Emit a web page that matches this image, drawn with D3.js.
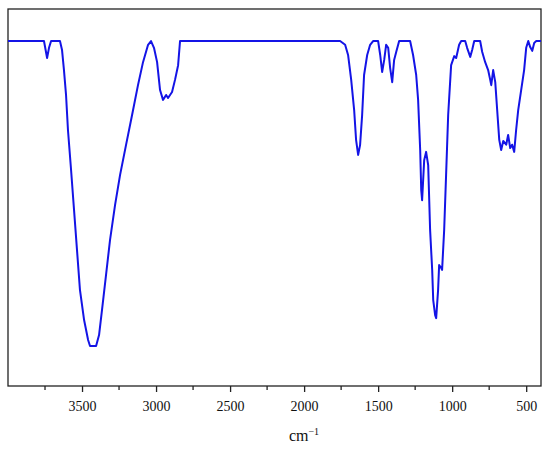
<!DOCTYPE html>
<html>
<head>
<meta charset="utf-8">
<script src="https://cdn.jsdelivr.net/npm/d3@7"></script>
<style>
  body { margin: 0; background: #fff; }
  .tick text { font-family: 'Liberation Serif', 'DejaVu Serif', serif; font-size: 14px; }
</style>
</head>
<body>
<svg id="chart" width="550" height="451"></svg>
<script>
// wavenumbers (cm-1) and transmittance (%)
const wavenumber = [4000, 3757, 3736, 3723, 3709, 3649, 3635, 3622, 3608, 3595, 3574, 3554, 3534, 3514, 3486, 3459, 3446,
  3405, 3385, 3365, 3338, 3311, 3277, 3243, 3203, 3162, 3122, 3088, 3054, 3034, 3014, 2993, 2973, 2953, 2932, 2919, 2892, 2872, 2851, 2838,
  1757, 1723, 1703, 1682, 1662, 1649, 1635, 1622, 1608, 1595, 1574, 1554, 1534, 1500, 1486, 1473, 1459, 1446, 1432, 1419, 1405, 1392, 1378, 1358,
  1284, 1264, 1243, 1230, 1216, 1209, 1203, 1189, 1176, 1162, 1149, 1135, 1128, 1115, 1108, 1095, 1088, 1074, 1068, 1054, 1041, 1027, 1007, 986, 973, 953, 939,
  912, 899, 878, 865, 851, 811, 797, 777, 757, 743, 736, 723, 709, 696, 682, 669, 655, 635, 622, 608, 595, 581, 568, 554, 534, 514, 500, 486, 473, 459, 446, 432, 400];
const transmittance = [91.5, 91.5, 87.0, 89.7, 91.5, 91.5, 89.1, 83.8, 77.2, 67.9, 57.3, 46.7, 36.1, 25.5, 17.5, 12.2, 10.6,
  10.6, 13.5, 20.2, 29.4, 38.7, 48.0, 56.0, 63.9, 71.9, 79.8, 85.9, 90.5, 91.5, 89.7, 85.9, 78.5, 75.9, 77.2, 76.4, 78.0, 81.2, 85.1, 91.5,
  91.5, 90.5, 87.8, 81.2, 73.2, 65.3, 61.3, 63.9, 71.9, 82.5, 87.8, 90.5, 91.5, 91.5, 87.8, 83.3, 86.5, 90.5, 89.7, 84.4, 80.6, 86.5, 88.6, 91.5,
  91.5, 87.8, 82.5, 75.9, 62.6, 52.0, 49.3, 59.9, 62.1, 58.6, 41.4, 30.8, 22.8, 18.8, 18.0, 25.5, 32.1, 31.3, 30.8, 41.4, 56.0, 71.9, 85.1, 87.5, 87.0, 90.5, 91.5,
  91.5, 89.7, 87.3, 89.1, 91.5, 91.5, 88.6, 85.9, 83.8, 81.2, 79.8, 83.8, 80.6, 73.2, 65.3, 62.6, 65.0, 64.0, 66.6, 63.1, 64.0, 62.1, 67.9, 73.2, 78.5, 83.8, 89.7, 91.5, 89.9, 88.9, 91.0, 91.5, 91.5];
const tickValues = [3500, 3000, 2500, 2000, 1500, 1000, 500];
const minorTicks = [3750, 3250, 2750, 2250, 1750, 1250, 750];
const xLabel = "cm";

const svg = d3.select("#chart");
const mLeft = 8, mRight = 541, mTop = 9, mBottom = 386;

const x = d3.scaleLinear().domain([4000, 400]).range([mLeft, mRight]);
const y = d3.scaleLinear().domain([0, 100]).range([mBottom, mTop]);

const data = wavenumber.map((w, i) => ({ w: w, t: transmittance[i] }));

// frame
svg.append("rect")
  .attr("x", mLeft).attr("y", mTop)
  .attr("width", mRight - mLeft).attr("height", mBottom - mTop)
  .attr("fill", "none").attr("stroke", "#222").attr("stroke-width", 1.3);

// spectrum
svg.append("path")
  .datum(data)
  .attr("fill", "none")
  .attr("stroke", "#1414e6")
  .attr("stroke-width", 2)
  .attr("stroke-linejoin", "round")
  .attr("d", d3.line().x(d => x(d.w)).y(d => y(d.t)));

// bottom axis
const axis = svg.append("g")
  .attr("transform", `translate(0,${mBottom})`)
  .call(d3.axisBottom(x).tickValues(tickValues).tickSize(6).tickPadding(9).tickFormat(d3.format("d")));
axis.select(".domain").remove();
axis.attr("font-family", null).attr("font-size", null);
axis.selectAll("line").attr("stroke", "#222").attr("stroke-width", 1.3);
axis.selectAll("text").attr("fill", "#111");

svg.append("g")
  .attr("transform", `translate(0,${mBottom})`)
  .selectAll("line")
  .data(minorTicks)
  .join("line")
  .attr("x1", d => x(d)).attr("x2", d => x(d))
  .attr("y1", 0).attr("y2", 4)
  .attr("stroke", "#222").attr("stroke-width", 1.3);

// axis title
const title = svg.append("text")
  .attr("x", 304).attr("y", 441)
  .attr("text-anchor", "middle")
  .style("font-family", "'Liberation Serif', serif")
  .style("font-size", "16px")
  .attr("fill", "#111")
  .text(xLabel);
title.append("tspan")
  .attr("dy", -6)
  .style("font-size", "10px")
  .text("\u22121");
</script>
</body>
</html>
